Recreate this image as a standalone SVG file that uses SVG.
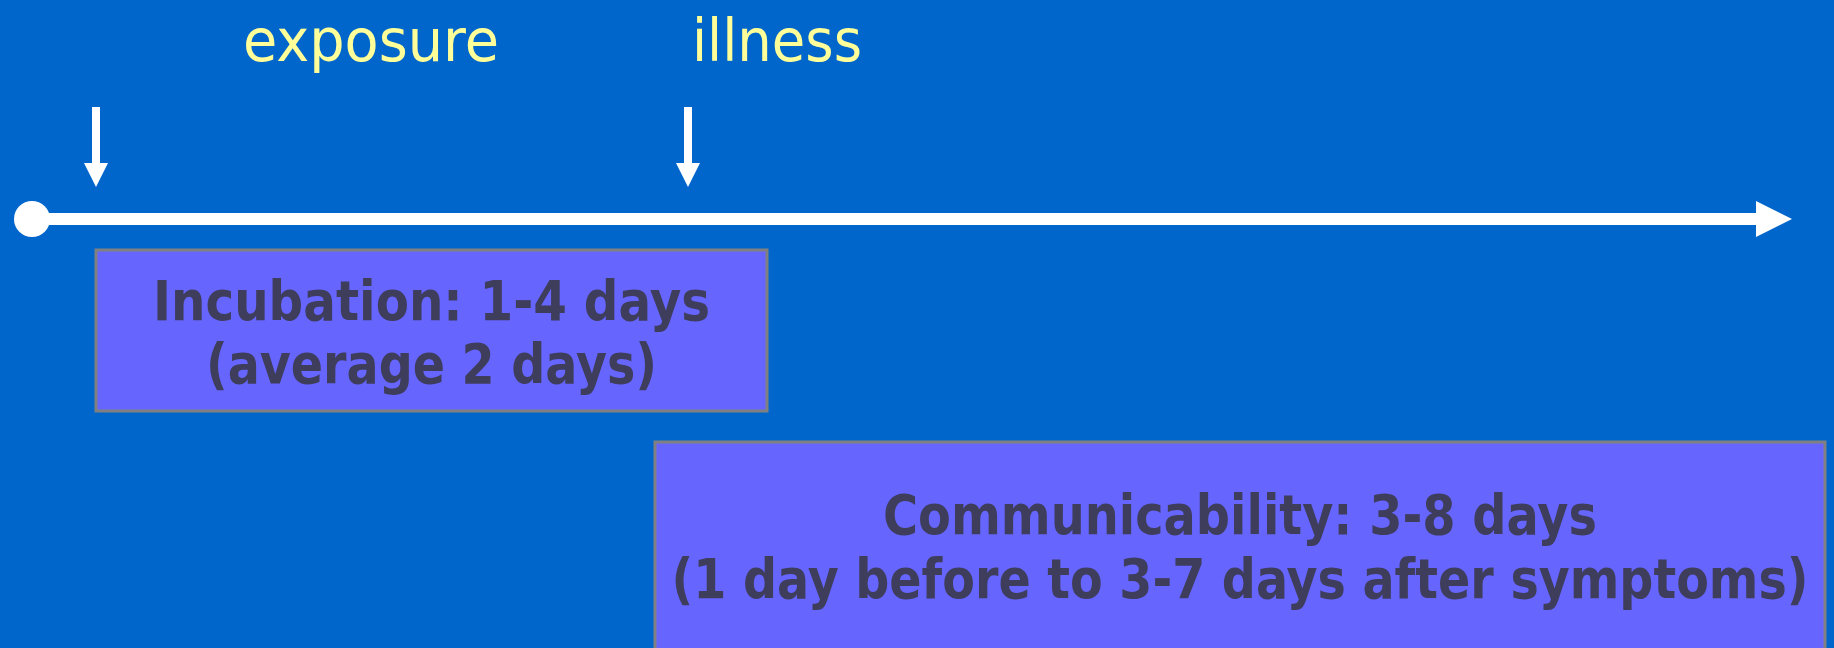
<svg xmlns="http://www.w3.org/2000/svg" width="1834" height="648" viewBox="0 0 1834 648">
<style>
.lbl{font-family:"DejaVu Sans","Liberation Sans",sans-serif;font-size:58px;fill:#ffff99}
.box{fill:#6666ff;stroke:#808080;stroke-width:3}
.bt{font-family:"DejaVu Sans","Liberation Sans",sans-serif;font-weight:bold;font-size:55px;fill:#3f3d5c;text-anchor:middle}
.w{fill:#ffffff}
</style>
<rect width="1834" height="648" fill="#0066cc"/>
<g id="label-exposure"><text class="lbl" x="243" y="61" textLength="256" lengthAdjust="spacingAndGlyphs">exposure</text></g>
<g id="label-illness"><text class="lbl" x="692" y="61" textLength="170" lengthAdjust="spacingAndGlyphs">illness</text></g>
<g id="connectors">
<rect class="w" x="92" y="107" width="8" height="57"/>
<polygon class="w" points="84,163 108,163 96,187"/>
<rect class="w" x="684" y="107" width="8" height="57"/>
<polygon class="w" points="676,163 700,163 688,187"/>
<circle class="w" cx="32" cy="219" r="18"/>
<rect class="w" x="32" y="213" width="1726" height="12"/>
<polygon class="w" points="1756,201 1792,219 1756,237"/>
</g>
<g id="incubation">
<rect class="box" x="96" y="250" width="671" height="161"/>
<text class="bt" x="431.5" y="320" textLength="557" lengthAdjust="spacingAndGlyphs">Incubation: 1-4 days</text>
<text class="bt" x="431.5" y="383" textLength="451" lengthAdjust="spacingAndGlyphs">(average 2 days)</text>
</g>
<g id="communicability">
<rect class="box" x="655" y="442" width="1170" height="220"/>
<text class="bt" x="1240" y="534" textLength="714" lengthAdjust="spacingAndGlyphs">Communicability: 3-8 days</text>
<text class="bt" x="1240" y="598" textLength="1137" lengthAdjust="spacingAndGlyphs">(1 day before to 3-7 days after symptoms)</text>
</g>
</svg>
